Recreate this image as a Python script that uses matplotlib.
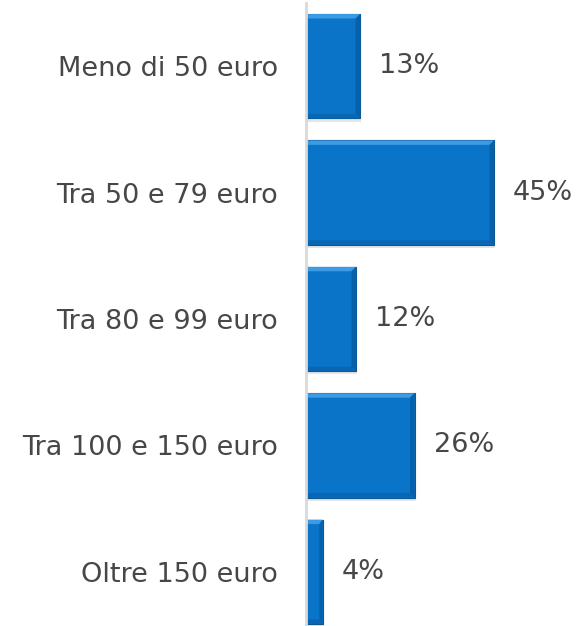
import matplotlib
matplotlib.use("Agg")
import matplotlib.pyplot as plt
from matplotlib.patches import Rectangle, Polygon

# dati
categorie = ['Meno di 50 euro', 'Tra 50 e 79 euro', 'Tra 80 e 99 euro',
             'Tra 100 e 150 euro', 'Oltre 150 euro']
valori = [13, 45, 12, 26, 4]

plt.rcParams['font.family'] = ['DejaVu Sans']
testo = '#474747'
blu = '#0a74c8'

fig = plt.figure(figsize=(5.86, 6.26), dpi=100)
ax = fig.add_axes([0.522, -0.0144, 0.478, 1.0096])

h = 0.825
ax.barh(range(len(valori)), valori, height=h, color=blu, edgecolor='#0b5794',
        linewidth=0.8, zorder=3)

# effetto bisellato: bordo chiaro in alto, scuro a destra e in basso
for i, v in enumerate(valori):
    top = i - h / 2
    bot = i + h / 2
    dx = min(1.1, v * 0.2)
    dy = 0.035
    ax.add_patch(Polygon([(0, top), (v, top), (v - dx, top + dy), (0, top + dy)],
                         closed=True, color='#3c9be3', lw=0, zorder=4))
    ax.add_patch(Polygon([(v, top), (v, bot), (v - dx, bot - dy), (v - dx, top + dy)],
                         closed=True, color='#0761aa', lw=0, zorder=4))
    ax.add_patch(Polygon([(0, bot), (v, bot), (v - dx, bot - dy), (0, bot - dy)],
                         closed=True, color='#0866b3', lw=0, zorder=4))
    # ombra
    ax.add_patch(Rectangle((0.3, top + 0.025), v, h, color='#000000', alpha=0.10,
                           lw=0, zorder=2))
    ax.annotate(f'{v}%', xy=(v, i), xytext=(19, 0), textcoords='offset pixels',
                va='center', ha='left', fontsize=19.5, color=testo)

ax.set_xlim(0, 67)
ax.set_ylim(len(valori) - 0.5, -0.5)
ax.set_yticks(range(len(categorie)))
ax.set_yticklabels(categorie, fontsize=19.5, color=testo)
ax.tick_params(axis='y', length=0, pad=20)
ax.set_xticks([])
for s in ['top', 'right', 'bottom']:
    ax.spines[s].set_visible(False)
ax.spines['left'].set_color('#d9d9d9')
ax.spines['left'].set_linewidth(2)
ax.spines['left'].set_zorder(5)

fig.savefig('out.png', dpi=100)
